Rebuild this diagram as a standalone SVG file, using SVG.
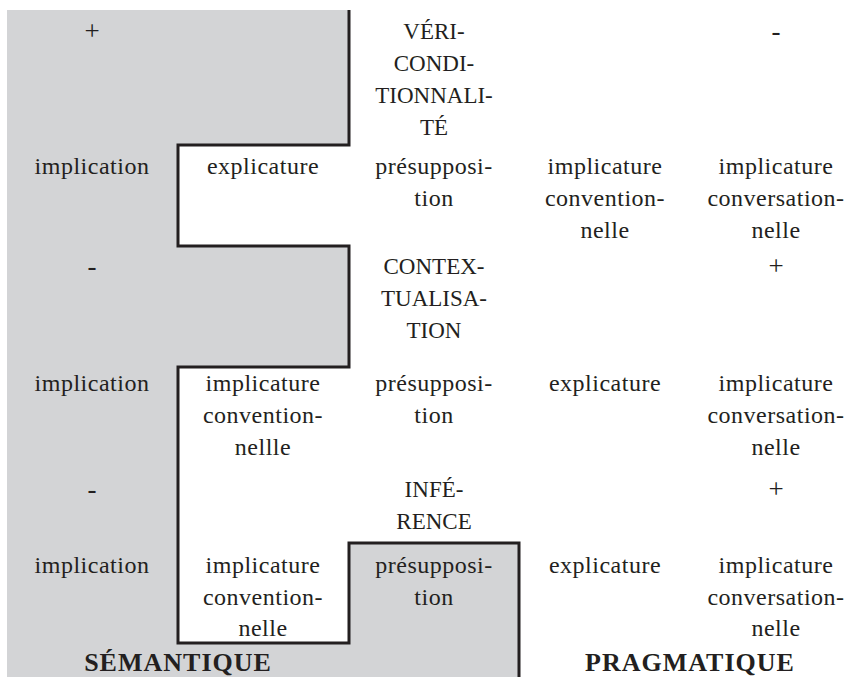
<svg xmlns="http://www.w3.org/2000/svg" width="847" height="677" viewBox="0 0 847 677">
<style>
text{font-family:"Liberation Serif","DejaVu Serif",serif;font-size:24px;letter-spacing:0.5px;fill:#231f20;text-anchor:middle}
.c{font-size:23px;letter-spacing:0}
.s{font-size:27px;letter-spacing:0}
.b{font-weight:bold;font-size:26px;letter-spacing:1px}
.line{fill:none;stroke:#231f20;stroke-width:3;stroke-linejoin:miter}
</style>
<rect width="847" height="677" fill="#ffffff"/>
<g id="shading">
<path d="M7,10 H349 V145 H178 V246 H349 V367 H178 V643 H349 V543 H519 V677 H7 Z" fill="#d3d4d6"/>
</g>
<g id="connectors">
<path class="line" d="M349,10 V145 H178 V246 H349 V367 H178 V643 H349 V543 H519 V677"/>
</g>
<g id="row1">
<g id="r1c1"><text class="s" x="92" y="40">+</text></g>
<g id="r1c3"><text class="c" x="434" y="39">VÉRI-</text><text class="c" x="434" y="71">CONDI-</text><text class="c" x="434" y="103">TIONNALI-</text><text class="c" x="434" y="135">TÉ</text></g>
<g id="r1c5"><text class="s" x="776" y="40">-</text></g>
</g>
<g id="row2">
<g id="r2c1"><text x="92" y="174">implication</text></g>
<g id="r2c2"><text x="263" y="174">explicature</text></g>
<g id="r2c3"><text x="434" y="174">présupposi-</text><text x="434" y="206">tion</text></g>
<g id="r2c4"><text x="605" y="174">implicature</text><text x="605" y="206">convention-</text><text x="605" y="238">nelle</text></g>
<g id="r2c5"><text x="776" y="174">implicature</text><text x="776" y="206">conversation-</text><text x="776" y="238">nelle</text></g>
</g>
<g id="row3">
<g id="r3c1"><text class="s" x="92" y="275">-</text></g>
<g id="r3c3"><text class="c" x="434" y="274">CONTEX-</text><text class="c" x="434" y="306">TUALISA-</text><text class="c" x="434" y="338">TION</text></g>
<g id="r3c5"><text class="s" x="776" y="275">+</text></g>
</g>
<g id="row4">
<g id="r4c1"><text x="92" y="391">implication</text></g>
<g id="r4c2"><text x="263" y="391">implicature</text><text x="263" y="423">convention-</text><text x="263" y="455">nellle</text></g>
<g id="r4c3"><text x="434" y="391">présupposi-</text><text x="434" y="423">tion</text></g>
<g id="r4c4"><text x="605" y="391">explicature</text></g>
<g id="r4c5"><text x="776" y="391">implicature</text><text x="776" y="423">conversation-</text><text x="776" y="455">nelle</text></g>
</g>
<g id="row5">
<g id="r5c1"><text class="s" x="92" y="498">-</text></g>
<g id="r5c3"><text class="c" x="434" y="497">INFÉ-</text><text class="c" x="434" y="529">RENCE</text></g>
<g id="r5c5"><text class="s" x="776" y="498">+</text></g>
</g>
<g id="row6">
<g id="r6c1"><text x="92" y="573">implication</text></g>
<g id="r6c2"><text x="263" y="573">implicature</text><text x="263" y="605">convention-</text><text x="263" y="636">nelle</text></g>
<g id="r6c3"><text x="434" y="573">présupposi-</text><text x="434" y="605">tion</text></g>
<g id="r6c4"><text x="605" y="573">explicature</text></g>
<g id="r6c5"><text x="776" y="573">implicature</text><text x="776" y="605">conversation-</text><text x="776" y="636">nelle</text></g>
</g>
<g id="labels">
<g id="semantique"><text class="b" x="178" y="671">SÉMANTIQUE</text></g>
<g id="pragmatique"><text class="b" x="690" y="671">PRAGMATIQUE</text></g>
</g>
</svg>
